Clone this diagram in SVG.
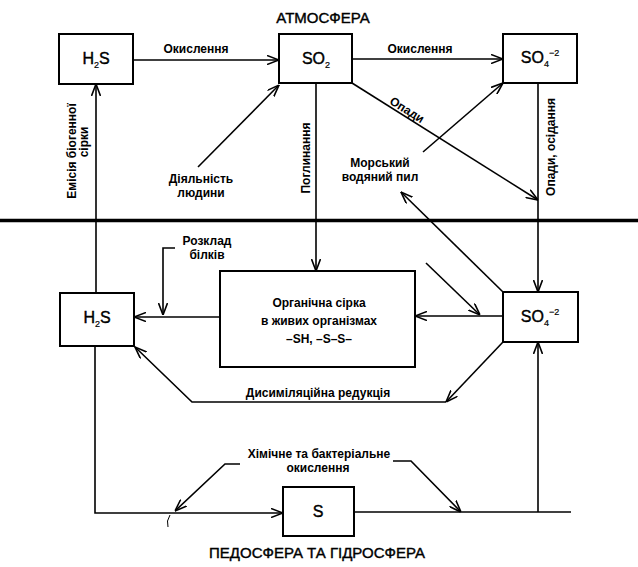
<svg xmlns="http://www.w3.org/2000/svg" width="638" height="567" viewBox="0 0 638 567">
<style>
.bg{fill:#fff}
.box{fill:#fff;stroke:#000;stroke-width:2}
.ln{fill:none;stroke:#000;stroke-width:1.6}
.ttl{font-family:"Liberation Sans",Arial,sans-serif;font-size:15px;fill:#000;stroke:#000;stroke-width:0.4;text-anchor:middle}
.lbl{font-family:"Liberation Sans",Arial,sans-serif;font-size:12px;font-weight:bold;fill:#000;text-anchor:middle}
.fml{font-family:"Liberation Sans",Arial,sans-serif;font-size:16px;fill:#000;stroke:#000;stroke-width:0.4;text-anchor:middle}
.sub{font-size:9px;stroke-width:0.2}
</style>
<defs>
<marker id="arr" viewBox="0 0 12 10" refX="12" refY="5" markerWidth="12" markerHeight="10" markerUnits="userSpaceOnUse" orient="auto">
<path d="M0,0.5 L12,5 L0,9.5" fill="none" stroke="#000" stroke-width="1.6"/>
</marker>
</defs>
<rect class="bg" x="0" y="0" width="638" height="567"/>

<text class="ttl" x="323" y="23">АТМОСФЕРА</text>
<text class="ttl" x="317" y="558">ПЕДОСФЕРА ТА ГІДРОСФЕРА</text>

<g id="connectors">
<line x1="0" y1="220.5" x2="638" y2="220.5" stroke="#000" stroke-width="3.5"/>
<path class="ln" d="M133,60 H279" marker-end="url(#arr)"/>
<path class="ln" d="M352,59 H503" marker-end="url(#arr)"/>
<path class="ln" d="M96,293 V84" marker-end="url(#arr)"/>
<path class="ln" d="M198,167 L279,85" marker-end="url(#arr)"/>
<path class="ln" d="M316,83 V271" marker-end="url(#arr)"/>
<path class="ln" d="M352,83 L538,200" marker-end="url(#arr)"/>
<path class="ln" d="M423,152 L503,83" marker-end="url(#arr)"/>
<path class="ln" d="M503,292 L401,192" marker-end="url(#arr)"/>
<path class="ln" d="M538,83 V292" marker-end="url(#arr)"/>
<path class="ln" d="M503,316 H415" marker-end="url(#arr)"/>
<path class="ln" d="M426,263 L480,315" marker-end="url(#arr)"/>
<path class="ln" d="M220,317 H134" marker-end="url(#arr)"/>
<path class="ln" d="M175,248 H163 V315" marker-end="url(#arr)"/>
<path class="ln" d="M503,342 L446,402" marker-end="url(#arr)"/>
<path class="ln" d="M446,402 H192 L135,347" marker-end="url(#arr)"/>
<path class="ln" d="M95,346 V513 H283" marker-end="url(#arr)"/>
<path class="ln" d="M354,512 H571"/>
<path class="ln" d="M538,512 V342" marker-end="url(#arr)"/>
<path class="ln" d="M240,464 H225 L175,511" marker-end="url(#arr)"/>
<path class="ln" d="M393,461 H411 L461,512" marker-end="url(#arr)"/>
<path d="M170,515 Q166,521 168,527" fill="none" stroke="#000" stroke-width="1"/>
</g>

<g id="labels">
<text class="lbl" x="196" y="53">Окислення</text>
<text class="lbl" x="420" y="53">Окислення</text>
<text class="lbl" transform="translate(76,151) rotate(-90)">Емісія біогенної</text>
<text class="lbl" transform="translate(88,142) rotate(-90)">сірки</text>
<text class="lbl" x="201" y="183">Діяльність</text>
<text class="lbl" x="201" y="197">людини</text>
<text class="lbl" transform="translate(310,158) rotate(-90)">Поглинання</text>
<text class="lbl" transform="translate(407,110) rotate(32)" y="4">Опади</text>
<text class="lbl" transform="translate(555,147) rotate(-90)">Опади, осідання</text>
<text class="lbl" x="380" y="167">Морський</text>
<text class="lbl" x="380" y="181">водяний пил</text>
<text class="lbl" x="207" y="245">Розклад</text>
<text class="lbl" x="207" y="259">білків</text>
<text class="lbl" x="318" y="397">Дисиміляційна редукція</text>
<text class="lbl" x="319" y="458">Хімічне та бактеріальне</text>
<text class="lbl" x="318" y="472">окислення</text>
</g>

<g id="h2s-top">
<rect class="box" x="59" y="34" width="74" height="50"/>
<text class="fml" x="96" y="64">H<tspan class="sub" dy="4">2</tspan><tspan dy="-4">S</tspan></text>
</g>
<g id="so2">
<rect class="box" x="279" y="34" width="73" height="49"/>
<text class="fml" x="316" y="64">SO<tspan class="sub" dy="4">2</tspan></text>
</g>
<g id="so4-top">
<rect class="box" x="503" y="34" width="74" height="49"/>
<text class="fml" x="540" y="63">SO<tspan class="sub" dy="4">4</tspan><tspan class="sub" dy="-11">−2</tspan></text>
</g>
<g id="h2s-bottom">
<rect class="box" x="60" y="293" width="74" height="53"/>
<text class="fml" x="97" y="323">H<tspan class="sub" dy="4">2</tspan><tspan dy="-4">S</tspan></text>
</g>
<g id="organic">
<rect class="box" x="220" y="271" width="195" height="96"/>
<text class="lbl" x="319" y="307">Органічна сірка</text>
<text class="lbl" x="319" y="325">в живих організмах</text>
<text class="lbl" x="319" y="343">–SH, –S–S–</text>
</g>
<g id="so4-bottom">
<rect class="box" x="503" y="292" width="75" height="50"/>
<text class="fml" x="540" y="322">SO<tspan class="sub" dy="4">4</tspan><tspan class="sub" dy="-11">−2</tspan></text>
</g>
<g id="s">
<rect class="box" x="283" y="487" width="71" height="49"/>
<text class="fml" x="318" y="517">S</text>
</g>
</svg>
